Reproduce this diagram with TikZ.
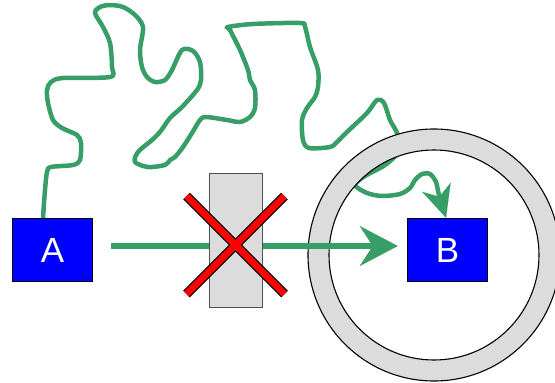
\documentclass[tikz,border=0pt]{standalone}
\usepackage{fontspec}
\setmainfont{Liberation Sans}
\usetikzlibrary{arrows.meta}
\pgfdeclarelayer{bg}
\pgfsetlayers{bg,main}
\definecolor{wgreen}{HTML}{389E68}
\definecolor{lgray}{HTML}{DCDCDC}
\definecolor{dgray}{HTML}{505050}
\begin{document}
\begin{tikzpicture}[x=1pt,y=-1pt,
  box/.style={draw=black,line width=1.5pt,fill=blue,text=white,minimum width=80pt,minimum height=63pt,inner sep=0pt,font=\fontsize{35}{35}\selectfont},
  gatebox/.style={draw=dgray,line width=1.5pt,fill=lgray,minimum width=53pt,minimum height=134pt,inner sep=0pt},
  ringstyle/.style={fill=lgray,draw=black,line width=1.1pt,even odd rule},
  wave/.style={draw=wgreen,line width=4.5pt,line cap=round,line join=round,-{Stealth[length=32pt,width=30pt,inset=10pt,line width=0.1pt]}},
  sline/.style={draw=wgreen,line width=5.5pt,-{Stealth[length=38pt,width=40pt,inset=13pt,line width=0.1pt]}},
  xout/.style={draw=black,line width=9.5pt},
  xin/.style={draw=red,line width=7pt}]
\useasboundingbox (0,0) rectangle (555,383);
% ring
\coordinate (rc) at (434,255);
\path[ringstyle] (rc) circle[radius=126pt] (rc) circle[radius=105pt];
% boxes
\node[box] (B) at (447.5,250) {B};
\node[box] (A) at (52.5,250) {A};
% wavy connector under the ring
\coordinate (ws) at ([xshift=-9.5pt]A.north);
\coordinate (we) at ([xshift=-1.5pt]B.north);
\begin{pgfonlayer}{bg}
\draw[wave] plot[smooth,tension=0.5] coordinates {
 (ws) (45,190) (47,172) (51,167) (73,165) (80,160) (81,143) (77,135) (62,128) (53,120)
 (48,103) (47,90) (51,82) (63,78) (110,77) (112,67) (110,43) (103,27) (95,13) (100,7)
 (110,5) (123,7) (135,15) (143,27) (140,50) (142,67) (147,77) (155,82) (165,80) (172,70)
 (182,50) (193,51) (200,62) (201,80) (197,90) (182,107) (170,118) (160,132) (152,140)
 (138,152) (135,162) (148,167) (165,165) (170,160) (175,157) (183,147) (192,133) (200,120)
 (206,117) (227,120) (240,122) (250,117) (255,108) (255,90) (250,80) (248,70) (240,50)
 (230,30) (228,27) (253,24) (300,23) (305,27) (310,47) (318,70) (318,87) (315,97) (307,108)
 (302,120) (303,140) (309,148) (330,147) (337,142) (347,132) (367,113) (377,100) (384,103)
 (390,120) (397,133) (400,150) (385,165) (365,176) (355,185) (367,193) (382,196) (400,194)
 (410,188) (415,180) (422,174) (430,174) (436,182) (439,195) (we)};
\end{pgfonlayer}
% straight connector
\draw[sline,shorten <=18pt,shorten >=9pt] ([yshift=4pt]A.east) -- ([yshift=4pt]B.west);
% gate
\node[gatebox] (G) at (236,240.5) {};
% red cross
\coordinate (x1) at (186.5,196);
\coordinate (x2) at (284.5,294);
\coordinate (x3) at (284.5,196);
\coordinate (x4) at (186.5,294);
\draw[xout] (x1) -- (x2);
\draw[xout] (x3) -- (x4);
\draw[xin] (x1) -- (x2);
\draw[xin] (x3) -- (x4);
\end{tikzpicture}
\end{document}
